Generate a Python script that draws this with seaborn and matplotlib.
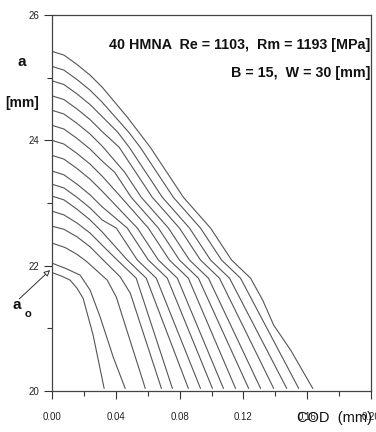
import matplotlib
matplotlib.use("Agg")
import matplotlib.pyplot as plt
from matplotlib import font_manager as fm
import seaborn as sns
import pandas as pd

# ---------------- data ----------------
cod_01 = [0, 0.0075, 0.0157, 0.0239, 0.0314, 0.0472, 0.0616, 0.0824, 0.0994, 0.1126, 0.1245, 0.1321, 0.1390, 0.1497, 0.1635]
a_01 = [25.42, 25.36, 25.21, 25.04, 24.85, 24.37, 23.89, 23.09, 22.60, 22.09, 21.80, 21.45, 21.05, 20.65, 20.04]
cod_02 = [0, 0.0075, 0.0157, 0.0239, 0.0314, 0.0481, 0.0553, 0.0657, 0.0761, 0.0931, 0.1063, 0.1182, 0.1547]
a_02 = [25.18, 25.12, 24.97, 24.80, 24.61, 24.13, 23.89, 23.49, 23.09, 22.60, 22.09, 21.80, 20.04]
cod_03 = [0, 0.0075, 0.0157, 0.0239, 0.0314, 0.0412, 0.0484, 0.0588, 0.0692, 0.0862, 0.0994, 0.1113, 0.1472]
a_03 = [24.95, 24.89, 24.74, 24.57, 24.38, 24.13, 23.89, 23.49, 23.09, 22.60, 22.09, 21.80, 20.04]
cod_04 = [0, 0.0075, 0.0157, 0.0239, 0.0314, 0.0421, 0.0525, 0.0629, 0.0799, 0.0931, 0.1050, 0.1390]
a_04 = [24.71, 24.65, 24.50, 24.33, 24.14, 23.89, 23.49, 23.09, 22.60, 22.09, 21.80, 20.04]
cod_05 = [0, 0.0075, 0.0157, 0.0239, 0.0314, 0.0456, 0.0560, 0.0730, 0.0862, 0.0981, 0.1308]
a_05 = [24.48, 24.42, 24.27, 24.10, 23.91, 23.49, 23.09, 22.60, 22.09, 21.80, 20.04]
cod_06 = [0, 0.0075, 0.0157, 0.0239, 0.0314, 0.0393, 0.0497, 0.0667, 0.0799, 0.0918, 0.1233]
a_06 = [24.24, 24.18, 24.03, 23.86, 23.67, 23.49, 23.09, 22.60, 22.09, 21.80, 20.04]
cod_07 = [0, 0.0075, 0.0157, 0.0239, 0.0314, 0.0434, 0.0604, 0.0736, 0.0855, 0.1151]
a_07 = [24.00, 23.94, 23.79, 23.62, 23.43, 23.09, 22.60, 22.09, 21.80, 20.04]
cod_08 = [0, 0.0075, 0.0157, 0.0239, 0.0314, 0.0535, 0.0667, 0.0786, 0.1075]
a_08 = [23.76, 23.70, 23.55, 23.38, 23.19, 22.60, 22.09, 21.80, 20.04]
cod_09 = [0, 0.0075, 0.0157, 0.0239, 0.0314, 0.0472, 0.0604, 0.0723, 0.1006]
a_09 = [23.51, 23.45, 23.30, 23.13, 22.94, 22.60, 22.09, 21.80, 20.04]
cod_10 = [0, 0.0075, 0.0157, 0.0239, 0.0314, 0.0403, 0.0535, 0.0654, 0.0931]
a_10 = [23.30, 23.24, 23.09, 22.92, 22.73, 22.60, 22.09, 21.80, 20.04]
cod_11 = [0, 0.0075, 0.0157, 0.0239, 0.0314, 0.0472, 0.0591, 0.0855]
a_11 = [23.11, 23.05, 22.90, 22.73, 22.54, 22.09, 21.80, 20.04]
cod_12 = [0, 0.0075, 0.0157, 0.0239, 0.0321, 0.0409, 0.0528, 0.0755]
a_12 = [22.87, 22.81, 22.68, 22.52, 22.31, 22.09, 21.80, 20.04]
cod_13 = [0, 0.0075, 0.0157, 0.0239, 0.0321, 0.0428, 0.0491, 0.0686]
a_13 = [22.63, 22.58, 22.46, 22.30, 22.09, 21.82, 21.56, 20.04]
cod_14 = [0, 0.0082, 0.0157, 0.0220, 0.0346, 0.0403, 0.0585]
a_14 = [22.36, 22.29, 22.18, 22.06, 21.77, 21.50, 20.04]
cod_15 = [0, 0.0082, 0.0176, 0.0239, 0.0302, 0.0384, 0.0459]   # a0 curve
a_15 = [22.04, 21.96, 21.85, 21.61, 21.18, 20.54, 20.04]
cod_16 = [0, 0.0063, 0.0113, 0.0157, 0.0195, 0.0258, 0.0327]
a_16 = [21.89, 21.83, 21.77, 21.64, 21.48, 20.89, 20.04]

x_ticks = [0.00, 0.04, 0.08, 0.12, 0.16, 0.20]
x_tick_labels = ["0.00", "0.04", "0.08", "0.12", "0.16", "0.20"]
x_minor = [0.02, 0.06, 0.10, 0.14, 0.18]
y_ticks = [20, 22, 24, 26]
y_tick_labels = ["20", "22", "24", "26"]
y_minor = [21, 23, 25]

title_1 = "40 HMNA  Re = 1103,  Rm = 1193 [MPa]"
title_2 = "B = 15,  W = 30 [mm]"
x_title = "COD  (mm)"

# ---------------- build table ----------------
pairs = [(cod_01, a_01), (cod_02, a_02), (cod_03, a_03), (cod_04, a_04),
         (cod_05, a_05), (cod_06, a_06), (cod_07, a_07), (cod_08, a_08),
         (cod_09, a_09), (cod_10, a_10), (cod_11, a_11), (cod_12, a_12),
         (cod_13, a_13), (cod_14, a_14), (cod_15, a_15), (cod_16, a_16)]
rows = []
for k, (cx, cy) in enumerate(pairs):
    for i, (xv, yv) in enumerate(zip(cx, cy)):
        rows.append({"curve": k, "order": i, "cod": xv, "a": yv})
df = pd.DataFrame(rows)

# ---------------- style ----------------
sns.set_theme(style="white")
names = {f.name for f in fm.fontManager.ttflist}
plt.rcParams["font.family"] = ["Liberation Sans", "DejaVu Sans"]
narrow = "Liberation Sans Narrow" in names
head_family = ["Liberation Sans Narrow", "Liberation Sans", "DejaVu Sans"] if narrow else ["Liberation Sans", "DejaVu Sans"]
head_size = 12.0 if narrow else 10.3

fig = plt.figure(figsize=(3.76, 4.32), dpi=100)
ax = fig.add_axes([52 / 376, 41 / 432, 319 / 376, 376 / 432])

line_col = "#555555"
sns.lineplot(data=df, x="cod", y="a", units="curve", estimator=None, sort=False,
             color=line_col, linewidth=0.8, ax=ax, legend=False)

ax.set_xlim(0, 0.2)
ax.set_ylim(20, 26)
ax.set_xticks(x_ticks)
ax.set_xticklabels(x_tick_labels)
ax.set_xticks(x_minor, minor=True)
ax.set_yticks(y_ticks)
ax.set_yticklabels(y_tick_labels)
ax.set_yticks(y_minor, minor=True)
ax.set_xlabel("")
ax.set_ylabel("")

ax.tick_params(which="major", direction="out", length=6, width=0.8, color="#333333",
               labelsize=7, labelcolor="#222222")
ax.tick_params(which="minor", direction="out", length=3.5, width=0.8, color="#333333")
ax.tick_params(axis="x", which="major", pad=9, bottom=True)
ax.tick_params(axis="x", which="minor", bottom=True)
ax.tick_params(axis="y", which="major", pad=3, left=True)
ax.tick_params(axis="y", which="minor", left=True)
for s in ax.spines.values():
    s.set_color("#444444")
    s.set_linewidth(0.9)
ax.grid(False)

# headings
fig.text(370 / 376, 1 - 45 / 432, title_1, ha="right", va="center",
         fontsize=head_size, fontweight="bold", family=head_family, color="#111111")
fig.text(370 / 376, 1 - 73 / 432, title_2, ha="right", va="center",
         fontsize=head_size, fontweight="bold", family=head_family, color="#111111")

# y-axis label
fig.text(22 / 376, 1 - 62 / 432, "a", ha="center", va="center",
         fontsize=11, fontweight="bold", color="#111111")
fig.text(22 / 376, 1 - 103 / 432, "[mm]", ha="center", va="center",
         fontsize=10, fontweight="bold", color="#111111")

# a0 label and arrow
fig.text(17 / 376, 1 - 305 / 432, "a", ha="center", va="center",
         fontsize=11, fontweight="bold", color="#111111")
fig.text(28 / 376, 1 - 314 / 432, "o", ha="center", va="center",
         fontsize=8, fontweight="bold", color="#111111")
ax.annotate("", xy=(-0.0012, 21.93), xytext=(-0.0205, 21.47),
            xycoords="data", textcoords="data", annotation_clip=False,
            arrowprops=dict(arrowstyle="-|>", fc="white", ec="#333333",
                            lw=0.7, mutation_scale=9, shrinkA=0, shrinkB=0))

# x-axis title (overlaps the last tick labels as in the original)
fig.text(297 / 376, 1 - 418 / 432, x_title, ha="left", va="center",
         fontsize=10.5, color="#111111", family=head_family)

fig.savefig("out.png", dpi=100, facecolor="white")
